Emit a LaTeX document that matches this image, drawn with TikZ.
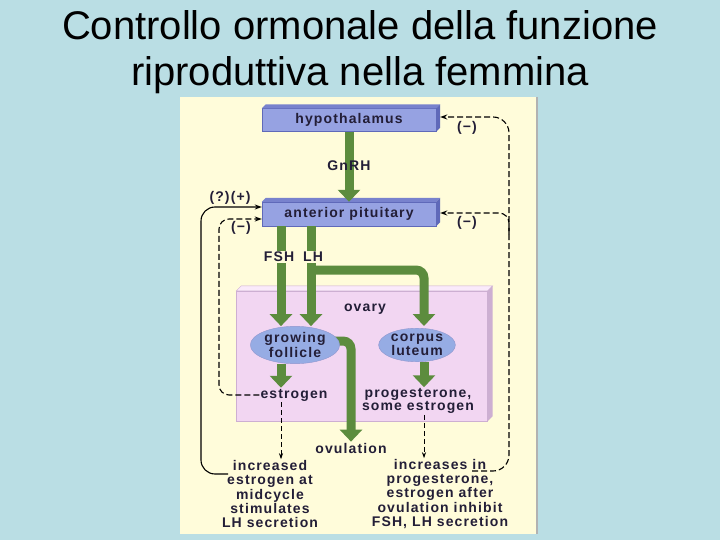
\documentclass[tikz,border=0pt]{standalone}
\usepackage{fontspec}
\setmainfont{Liberation Sans}
\newfontfamily\dfont[LetterSpace=8]{Liberation Sans}
\usetikzlibrary{arrows.meta,shapes.geometric,calc}
\definecolor{bgblue}{RGB}{186,222,228}
\definecolor{cream}{RGB}{255,252,218}
\definecolor{boxblue}{RGB}{150,162,226}
\definecolor{boxdark}{RGB}{95,105,185}
\definecolor{boxtop}{RGB}{120,130,205}
\definecolor{ovfill}{RGB}{242,214,242}
\definecolor{ovtop}{RGB}{250,234,250}
\definecolor{ovside}{RGB}{205,175,210}
\definecolor{ellblue}{RGB}{150,172,228}
\definecolor{hgreen}{RGB}{92,140,62}
\definecolor{txt}{RGB}{35,30,55}
\begin{document}
\begin{tikzpicture}[x=1pt,y=-1pt,
 lbl/.style={font=\dfont\bfseries\fontsize{14}{14.2}\selectfont, text=txt, inner sep=1pt},
 organ/.style={rectangle, draw=boxdark, fill=boxblue, minimum width=174pt, minimum height=23pt, lbl},
 gland/.style={ellipse, draw=boxdark!70, fill=ellblue, inner sep=0pt, lbl, align=center, font=\dfont\bfseries\fontsize{14}{13}\selectfont},
 hormone/.style={hgreen, line width=9pt, -{Triangle[width=22pt,length=12pt]}},
 fb/.style={draw=black, line width=1.1pt, -{Stealth[length=7pt,width=5pt]}},
 fbd/.style={fb, dash pattern=on 6pt off 3pt},
 thind/.style={draw=black, line width=0.9pt, dash pattern=on 5pt off 3pt, -{Stealth[length=6pt,width=4pt]}},
]
\useasboundingbox (0,0) rectangle (720,540);
\fill[bgblue] (0,0) rectangle (720,540);
% title
\node[anchor=base, font=\fontsize{40}{46}\selectfont] (t1) at (360,40) {Controllo ormonale della funzione};
\node[anchor=base, font=\fontsize{40}{46}\selectfont] (t2) at (360,86) {riproduttiva nella femmina};
% panel
\fill[cream] (180,97) rectangle (537,534);
\draw[gray!60, line width=1.5pt] (537,97) -- (537,534);

% boxes
\node[organ] (hyp) at (349,120) {hypothalamus};
\fill[boxtop] (hyp.north west) -- ++(4,-4) -- ($(hyp.north east)+(4,-4)$) -- (hyp.north east) -- cycle;
\fill[boxdark] (hyp.north east) -- ++(4,-4) -- ($(hyp.south east)+(4,-4)$) -- (hyp.south east) -- cycle;
\node[organ, minimum height=24pt] (pit) at (349,214) {anterior pituitary};
\fill[boxtop] (pit.north west) -- ++(4,-4) -- ($(pit.north east)+(4,-4)$) -- (pit.north east) -- cycle;
\fill[boxdark] (pit.north east) -- ++(4,-4) -- ($(pit.south east)+(4,-4)$) -- (pit.south east) -- cycle;

% ovary
\node[rectangle, draw=ovside, fill=ovfill, minimum width=251pt, minimum height=130pt] (ovary) at (362,356) {};
\fill[ovtop, draw=ovside] (ovary.north west) -- ++(5,-5) -- ($(ovary.north east)+(5,-5)$) -- (ovary.north east) -- cycle;
\fill[ovside] (ovary.north east) -- ++(5,-5) -- ($(ovary.south east)+(5,-5)$) -- (ovary.south east) -- cycle;
\node[lbl] (ovlab) at (365,309) {ovary};

% positions
\coordinate (fx) at (281,0);
\coordinate (lx) at (311,0);
\coordinate (cx) at (424,0);
\coordinate (lhturn) at (311,270);
\node[lbl] (estr) at (294,395) {estrogen};
\node[lbl, align=center, font=\dfont\bfseries\fontsize{14}{13}\selectfont] (prog) at (418,401) {progesterone,\\some estrogen};
\node[lbl] (ovul) at (351,448) {ovulation};
\node[lbl, align=center] (incr) at (270,494) {increased\\estrogen at\\midcycle\\stimulates\\LH secretion};
\node[lbl, align=center] (incp) at (440,494) {increases in\\progesterone,\\estrogen after\\ovulation inhibit\\FSH, LH secretion};

% green hormone arrows
\draw[hormone] (hyp.south) -- (pit.north);
\node[lbl] (gnrh) at (349,166) {GnRH};
\draw[hgreen, line width=9pt, rounded corners=8pt, -{Triangle[width=22pt,length=12pt]}] ($(lhturn)+(-4,0)$) -- (lhturn -| cx) -- ($(cx)+(0,326)$);
\draw[hormone, rounded corners=8pt] (299,341) -- (351,341) -- (ovul.north -| 351,0);
\node[gland, minimum width=76pt, minimum height=29pt] (foll) at (295,345) {growing\\follicle};
\node[gland, minimum width=68pt, minimum height=29pt] (corp) at (417,345) {corpus\\luteum};
\draw[hormone] (pit.south -| fx) -- (foll.north -| fx);
\draw[hormone] (pit.south -| lx) -- (foll.north -| lx);
\node[lbl, fill=cream] (fsh) at (279,257) {FSH};
\node[lbl, fill=cream] (lh) at (313,257) {LH};
\draw[hormone] (foll.south -| fx) -- (estr.north -| fx);
\draw[hormone] (corp.south -| cx) -- (prog.north -| cx);

% thin dashed arrows to bottom texts
\draw[thind] (estr.south -| fx) -- (incr.north -| fx);
\draw[thind] (prog.south -| cx) -- (incp.north -| cx);

% feedback loops
\coordinate (lstart) at (228,474);
\coordinate (rstart) at (472,471);
\draw[fb, rounded corners=14pt] (lstart) -- (201,474) -- (201,207) -- ($(pit.west)+(0,-7)$);
\draw[fbd, rounded corners=10pt] (estr.west) -- (219,395) -- (219,219) -- ($(pit.west)+(0,5)$);
\draw[fbd, rounded corners=16pt] (rstart) -- (509,471) -- (509,117) -- ($(hyp.east)+(4,-3)$);
\draw[fbd, rounded corners=10pt] (509,234) -- (509,213) -- ($(pit.east)+(4,-1)$);
\node[lbl] (m1) at (467,128) {(−)};
\node[lbl] (m2) at (467,223) {(−)};
\node[lbl] (m3) at (230,198) {(?)(+)};
\node[lbl] (m4) at (241,228) {(−)};
\end{tikzpicture}
\end{document}
